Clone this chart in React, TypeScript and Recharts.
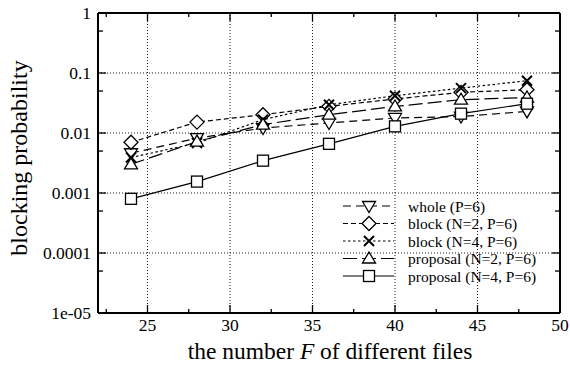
import React from "react";
import { LineChart, Line, XAxis, YAxis, ReferenceLine } from "recharts";

// number of different files F
const fileCounts = [24, 28, 32, 36, 40, 44, 48];

// blocking probability per scheme
const whole = [0.0046, 0.0082, 0.0121, 0.0147, 0.0178, 0.0188, 0.0229];
const blockN2 = [0.007, 0.0152, 0.0202, 0.0278, 0.0369, 0.0476, 0.0527];
const blockN4 = [0.0039, 0.0068, 0.0167, 0.0296, 0.0418, 0.056, 0.0744];
const proposalN2 = [0.003, 0.0072, 0.0138, 0.0202, 0.0277, 0.0359, 0.039];
const proposalN4 = [0.0008, 0.00155, 0.00346, 0.0066, 0.0129, 0.021, 0.0308];

const seriesNames = [
  "whole (P=6)",
  "block (N=2, P=6)",
  "block (N=4, P=6)",
  "proposal (N=2, P=6)",
  "proposal (N=4, P=6)",
];

const xTicks = [22.5, 25, 27.5, 30, 32.5, 35, 37.5, 40, 42.5, 45, 47.5, 50];
const xGrid = [25, 30, 35, 40, 45];
const yTicks = [1e-5, 5e-5, 1e-4, 5e-4, 1e-3, 5e-3, 0.01, 0.05, 0.1, 0.5, 1];
const yGrid = [1e-4, 1e-3, 0.01, 0.1];

const data = fileCounts.map((f, i) => ({
  f,
  whole: whole[i],
  blockN2: blockN2[i],
  blockN4: blockN4[i],
  proposalN2: proposalN2[i],
  proposalN4: proposalN4[i],
}));

const FONT = "'Liberation Serif', 'Times New Roman', serif";
const W = 570;
const H = 365;
const PLOT_LEFT = 98;
const PLOT_RIGHT = 560;
const PLOT_TOP = 13;
const PLOT_BOTTOM = 313;

type Shape = "down" | "diamond" | "cross" | "up" | "square";

const marker = (shape: Shape, cx: number, cy: number, key?: string) => {
  const common = { fill: "#fff", stroke: "#000", strokeWidth: 1.3 };
  switch (shape) {
    case "down":
      return (
        <path key={key} {...common}
          d={`M${cx - 6.5},${cy - 4.5}L${cx + 6.5},${cy - 4.5}L${cx},${cy + 6.5}Z`} />
      );
    case "up":
      return (
        <path key={key} {...common}
          d={`M${cx - 6.5},${cy + 4.5}L${cx + 6.5},${cy + 4.5}L${cx},${cy - 6.5}Z`} />
      );
    case "diamond":
      return (
        <path key={key} {...common}
          d={`M${cx},${cy - 7}L${cx + 7},${cy}L${cx},${cy + 7}L${cx - 7},${cy}Z`} />
      );
    case "cross":
      return (
        <path key={key} fill="none" stroke="#000" strokeWidth={2}
          d={`M${cx - 5},${cy - 5}L${cx + 5},${cy + 5}M${cx + 5},${cy - 5}L${cx - 5},${cy + 5}`} />
      );
    default:
      return <rect key={key} {...common} x={cx - 5.5} y={cy - 5.5} width={11} height={11} />;
  }
};

const dotFor = (shape: Shape) => (props: any) =>
  marker(shape, props.cx, props.cy, `${shape}-${props.index}`);

const series: { key: string; shape: Shape; dash?: string }[] = [
  { key: "whole", shape: "down", dash: "8 5" },
  { key: "blockN2", shape: "diamond", dash: "5 3" },
  { key: "blockN4", shape: "cross", dash: "2.5 2.5" },
  { key: "proposalN2", shape: "up", dash: "14 5" },
  { key: "proposalN4", shape: "square" },
];

const XTick = ({ x, payload }: any) => {
  const v = payload.value as number;
  const major = v % 5 === 0;
  const len = major ? 8 : 4;
  return (
    <g>
      <line x1={x} x2={x} y1={PLOT_BOTTOM} y2={PLOT_BOTTOM - len} stroke="#000" strokeWidth={1.3} />
      <line x1={x} x2={x} y1={PLOT_TOP} y2={PLOT_TOP + len} stroke="#000" strokeWidth={1.3} />
      {major && (
        <text x={x} y={331} textAnchor="middle" fontFamily={FONT} fontSize={17.5} fill="#000">
          {v}
        </text>
      )}
    </g>
  );
};

const yLabel = (v: number) => (v === 1e-5 ? "1e-05" : String(v));

const YTick = ({ y, payload }: any) => {
  const v = payload.value as number;
  const major = Math.abs(Math.log10(v) - Math.round(Math.log10(v))) < 1e-9;
  const len = major ? 8 : 5;
  return (
    <g>
      <line x1={PLOT_LEFT} x2={PLOT_LEFT + len} y1={y} y2={y} stroke="#000" strokeWidth={1.3} />
      <line x1={PLOT_RIGHT} x2={PLOT_RIGHT - len} y1={y} y2={y} stroke="#000" strokeWidth={1.3} />
      {major && (
        <text x={91} y={y} textAnchor="end" dominantBaseline="central"
          fontFamily={FONT} fontSize={17.5} fill="#000">
          {yLabel(v)}
        </text>
      )}
    </g>
  );
};

const LegendOverlay = () => {
  const rowY = [206, 223.5, 241, 258.5, 276];
  return (
    <svg width={W} height={H} style={{ position: "absolute", left: 0, top: 0, pointerEvents: "none" }}>
      {series.map((s, i) => (
        <g key={s.key}>
          <line x1={343} x2={394} y1={rowY[i]} y2={rowY[i]} stroke="#000" strokeWidth={1.2}
            strokeDasharray={s.dash} />
          {marker(s.shape, 369, rowY[i])}
          <text x={408} y={rowY[i]} dominantBaseline="central" fontFamily={FONT} fontSize={15.5} fill="#000">
            {seriesNames[i]}
          </text>
        </g>
      ))}
      <text x={330} y={359} textAnchor="middle" fontFamily={FONT} fontSize={23.5} fill="#000">
        the number <tspan fontStyle="italic">F</tspan> of different files
      </text>
      <text x={27} y={158} textAnchor="middle" transform="rotate(-90, 27, 158)"
        fontFamily={FONT} fontSize={24} fill="#000">
        blocking probability
      </text>
    </svg>
  );
};

export default function App() {
  return (
    <div style={{ position: "absolute", left: 0, top: 0, width: W, height: H, background: "#fff" }}>
      <LineChart width={W} height={H} data={data}
        margin={{ top: PLOT_TOP, right: W - PLOT_RIGHT, left: 0, bottom: 22 }}>
        <XAxis dataKey="f" type="number" domain={[22, 50]} ticks={xTicks} interval={0}
          height={30} axisLine={false} tickLine={false} tick={<XTick />} />
        <YAxis type="number" scale="log" domain={[1e-5, 1]} allowDataOverflow ticks={yTicks}
          interval={0} width={PLOT_LEFT} axisLine={false} tickLine={false} tick={<YTick />} />
        {xGrid.map((v) => (
          <ReferenceLine key={`gx${v}`} x={v} stroke="#000" strokeWidth={0.9} strokeDasharray="1 2" />
        ))}
        {yGrid.map((v) => (
          <ReferenceLine key={`gy${v}`} y={v} stroke="#000" strokeWidth={0.9} strokeDasharray="1 2" />
        ))}
        <ReferenceLine x={22} stroke="#000" strokeWidth={2} />
        <ReferenceLine x={50} stroke="#000" strokeWidth={2} />
        <ReferenceLine y={1e-5} stroke="#000" strokeWidth={2} />
        <ReferenceLine y={1} stroke="#000" strokeWidth={2} />
        {series.map((s) => (
          <Line key={s.key} dataKey={s.key} type="linear" stroke="#000" strokeWidth={1.2}
            strokeDasharray={s.dash} dot={dotFor(s.shape)} activeDot={false}
            isAnimationActive={false} />
        ))}
      </LineChart>
      <LegendOverlay />
    </div>
  );
}
